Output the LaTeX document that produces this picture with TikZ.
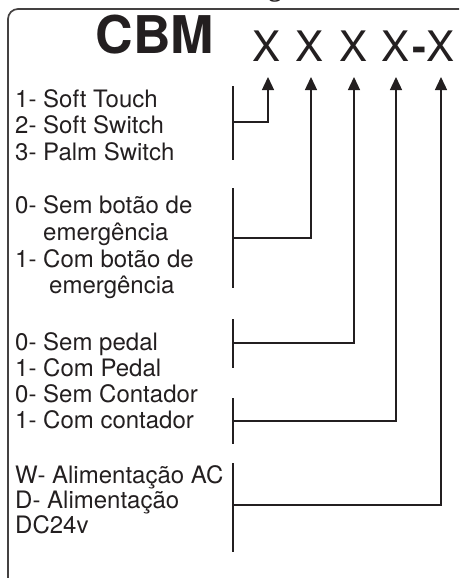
\documentclass[tikz,border=0pt]{standalone}
\usepackage{fontspec}
\setmainfont{TeX Gyre Heros}
\newfontfamily\serifbold{Liberation Serif}
\usetikzlibrary{arrows.meta}
\definecolor{T}{RGB}{35,31,32}

\begin{document}
\begin{tikzpicture}[x=1pt,y=-1pt,
    txt/.style={anchor=base west,inner sep=0pt,text=T,font=\fontsize{24}{26}\selectfont},
    xis/.style={anchor=base,inner sep=0pt,text=T,font=\fontsize{42}{42}\selectfont},
    barra/.style={line width=1.3pt,draw=T},
    seta/.style={line width=1.3pt,draw=T,-{Triangle[width=12pt,length=13pt]}}]

    \useasboundingbox (0,0) rectangle (459,578);
    \clip (0,0) rectangle (459,578);

    % Titulo cortado e moldura
    \node[anchor=base,inner sep=0pt,text=T,font=\serifbold\bfseries\fontsize{26}{26}\selectfont] (tit) at (275,-3.5) {g};
    \draw[line width=1.7pt,draw=T!85,rounded corners=10pt] (8,9) rectangle (475,600);

    % Codigo
    \node[anchor=base,inner sep=0pt,text=T,font=\bfseries\fontsize{52}{52}\selectfont] (cbm) at (155,54) {CBM};
    \node[xis] (x1) at (267,62) {X};
    \node[xis] (x2) at (310,62) {X};
    \node[xis] (x3) at (354,62) {X};
    \node[xis] (x4) at (396,62) {X};
    \node[xis,font=\bfseries\fontsize{42}{42}\selectfont] (hif) at (419,62) {-};
    \node[xis] (x5) at (441,62) {X};

    % Pontas das setas
    \coordinate (a1) at (268,77);
    \coordinate (a2) at (311,77);
    \coordinate (a3) at (354,77);
    \coordinate (a4) at (396,77);
    \coordinate (a5) at (441,77);

    % Grupo 1 - acionamento
    \node[txt] (t1a) at (15,107) {1- Soft Touch};
    \node[txt] (t1b) at (15,133) {2- Soft Switch};
    \node[txt] (t1c) at (15,160) {3- Palm Switch};
    \coordinate (g1t) at (233,86);
    \coordinate (g1b) at (233,160);
    \coordinate (g1m) at (233,122);
    \draw[barra] (g1t) -- (g1b);
    \draw[seta] (g1m) -| (a1);

    % Grupo 2 - emergencia
    \node[txt] (t2a) at (15,213) {0- Sem botão de};
    \node[txt] (t2b) at (43,240) {emergência};
    \node[txt] (t2c) at (15,267) {1- Com botão de};
    \node[txt] (t2d) at (49,293) {emergência};
    \coordinate (g2t) at (233,188);
    \coordinate (g2b) at (233,288);
    \coordinate (g2m) at (233,238);
    \draw[barra] (g2t) -- (g2b);
    \draw[seta] (g2m) -| (a2);

    % Grupo 3 - pedal
    \node[txt] (t3a) at (15,350) {0- Sem pedal};
    \node[txt] (t3b) at (15,376) {1- Com Pedal};
    \coordinate (g3t) at (233,319);
    \coordinate (g3b) at (233,368);
    \coordinate (g3m) at (233,343);
    \draw[barra] (g3t) -- (g3b);
    \draw[seta] (g3m) -| (a3);

    % Grupo 4 - contador
    \node[txt] (t4a) at (15,402) {0- Sem Contador};
    \node[txt] (t4b) at (15,428) {1- Com contador};
    \coordinate (g4t) at (233,398);
    \coordinate (g4b) at (233,444);
    \coordinate (g4m) at (233,421);
    \draw[barra] (g4t) -- (g4b);
    \draw[seta] (g4m) -| (a4);

    % Grupo 5 - alimentacao
    \node[txt] (t5a) at (15,483) {W- Alimentação AC};
    \node[txt] (t5b) at (15,508) {D- Alimentação};
    \node[txt] (t5c) at (15,533) {DC24v};
    \coordinate (g5t) at (233,463);
    \coordinate (g5b) at (233,552);
    \coordinate (g5m) at (233,505);
    \draw[barra] (g5t) -- (g5b);
    \draw[seta] (g5m) -| (a5);
\end{tikzpicture}
\end{document}
